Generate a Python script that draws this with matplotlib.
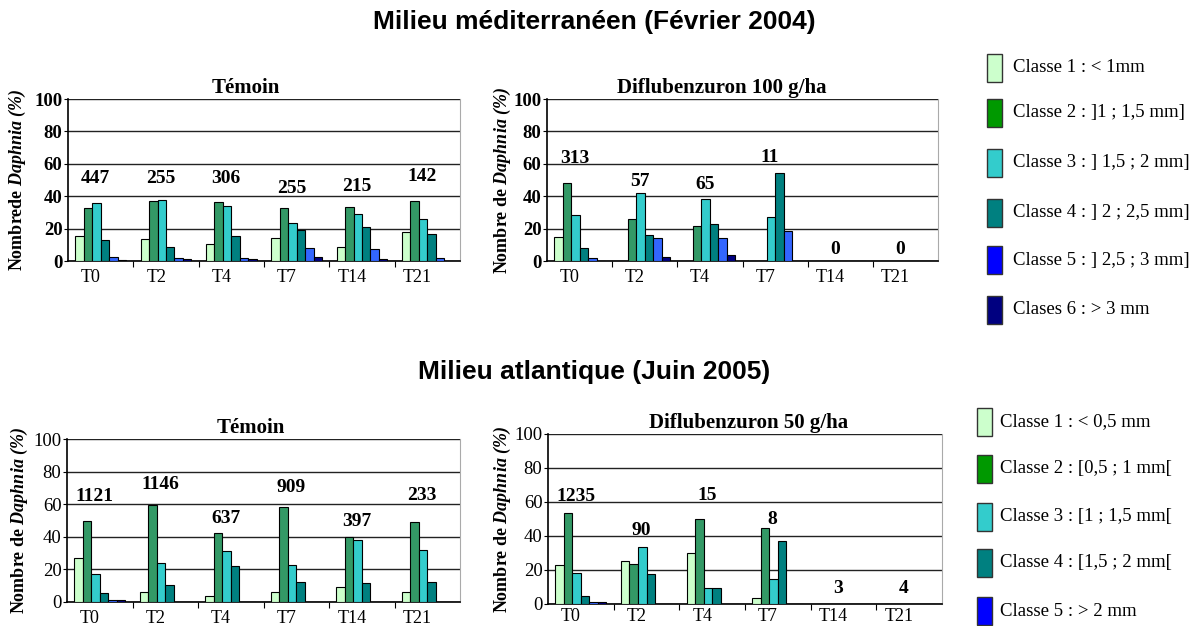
import numpy as np
import matplotlib.pyplot as plt
from matplotlib.patches import Rectangle

plt.rcParams["font.family"] = "Liberation Serif"
plt.rcParams["mathtext.fontset"] = "custom"
plt.rcParams["mathtext.bfit"] = "Liberation Serif:bold:italic"
plt.rcParams["mathtext.it"] = "Liberation Serif:italic"

times = ["T0", "T2", "T4", "T7", "T14", "T21"]

# --- Milieu méditerranéen (Février 2004), % per size class (6 classes) ---
med_temoin = np.array([
    [15.4, 33.0, 35.6, 13.0, 2.3, 0.6],
    [13.6, 36.8, 37.7, 8.4, 2.0, 1.4],
    [10.7, 36.2, 34.2, 15.4, 2.0, 1.4],
    [14.4, 32.7, 23.3, 19.1, 7.8, 2.5],
    [8.4, 33.1, 28.8, 21.0, 7.4, 1.4],
    [17.7, 37.2, 26.1, 16.7, 1.6, 0.0],
])
med_temoin_n = ["447", "255", "306", "255", "215", "142"]
med_temoin_n_y = [51, 51, 51, 44.5, 46, 52]

med_diflu = np.array([
    [14.6, 47.9, 28.2, 7.8, 1.6, 0.0],
    [0.0, 26.1, 42.0, 15.8, 14.2, 2.3],
    [0.0, 21.6, 38.3, 22.8, 14.2, 3.5],
    [0.0, 0.0, 27.2, 54.5, 18.3, 0.0],
    [0.0, 0.0, 0.0, 0.0, 0.0, 0.0],
    [0.0, 0.0, 0.0, 0.0, 0.0, 0.0],
])
med_diflu_n = ["313", "57", "65", "11", "0", "0"]
med_diflu_n_y = [63, 49, 47, 64, 7, 7]

# --- Milieu atlantique (Juin 2005) ---
atl_temoin = np.array([
    [26.9, 49.9, 17.2, 5.7, 1.2, 1.2],
    [6.2, 59.8, 24.2, 10.5, 0.0, 0.0],
    [3.7, 42.1, 31.2, 21.8, 0.0, 0.0],
    [6.4, 58.1, 22.4, 12.5, 0.0, 0.0],
    [9.4, 39.6, 38.0, 11.7, 0.0, 0.0],
    [6.2, 49.1, 32.2, 12.3, 0.0, 0.0],
])
atl_temoin_n = ["1121", "1146", "637", "909", "397", "233"]
atl_temoin_n_y = [64.5, 72, 51.5, 70, 49.5, 65.5]

atl_diflu = np.array([
    [23.2, 53.4, 18.1, 4.9, 1.0, 1.0],
    [25.5, 23.4, 33.4, 17.7, 0.0, 0.0],
    [29.9, 49.9, 9.6, 9.6, 0.0, 0.0],
    [3.7, 44.6, 14.7, 37.1, 0.0, 0.0],
    [0.0, 0.0, 0.0, 0.0, 0.0, 0.0],
    [0.0, 0.0, 0.0, 0.0, 0.0, 0.0],
])
atl_diflu_n = ["1235", "90", "15", "8", "3", "4"]
atl_diflu_n_y = [63.5, 43.5, 64, 50, 9, 9]

med_classes = ["Classe 1 : < 1mm", "Classe 2 : ]1 ; 1,5 mm]", "Classe 3 : ] 1,5 ; 2 mm]",
               "Classe 4 : ] 2 ; 2,5 mm]", "Classe 5 : ] 2,5 ; 3 mm]", "Clases 6 : > 3 mm"]
atl_classes = ["Classe 1 : < 0,5 mm", "Classe 2 : [0,5 ; 1 mm[", "Classe 3 : [1 ; 1,5 mm[",
               "Classe 4 : [1,5 ; 2 mm[", "Classe 5 : > 2 mm"]

bar_colors = ["#CCFFCC", "#339966", "#33CCCC", "#008080", "#3366FF", "#000080"]
legend_colors = ["#CCFFCC", "#009900", "#33CCCC", "#008080", "#0000FF", "#000080"]


def draw_panel(rect, data, counts, count_y, title, title_x, ylabel, label_x,
               ybold=True, xpad=6):
    ax = fig.add_axes(rect)
    x = np.arange(len(times))
    bw = 0.13
    for k in range(data.shape[1]):
        ax.bar(x + (k - 2.5) * bw, data[:, k], width=bw, color=bar_colors[k],
               edgecolor="black", linewidth=0.8, zorder=3)
    for i, (c, cy) in enumerate(zip(counts, count_y)):
        ax.text(i - 0.08, cy, c, ha="center", va="center", fontsize=14,
                fontweight="bold", zorder=4)
    ax.set_xlim(-0.5, len(times) - 0.5)
    ax.set_ylim(0, 100)
    ax.set_yticks(range(0, 101, 20))
    ax.tick_params(axis="y", labelsize=13.5, length=3, pad=1)
    if ybold:
        for lab in ax.get_yticklabels():
            lab.set_fontweight("bold")
    ax.set_xticks(np.arange(0.5, len(times) - 0.5), labels=[])
    ax.tick_params(axis="x", which="major", length=4)
    ax.set_xticks(x - 0.15, labels=times, minor=True)
    ax.tick_params(axis="x", which="minor", length=0, labelsize=13, pad=xpad)
    ax.grid(axis="y", color="#222222", linewidth=1.0, zorder=0)
    ax.spines["top"].set_visible(False)
    ax.spines["right"].set_color("#AAAAAA")
    ax.spines["left"].set_linewidth(1.2)
    ax.spines["bottom"].set_linewidth(1.2)
    ax.set_title(title, fontsize=15, fontweight="bold", pad=4, x=title_x)
    ax.set_ylabel(ylabel, fontsize=13, fontweight="bold")
    ax.yaxis.set_label_coords(label_x, 0.5)
    return ax


def draw_legend(labels, x0, ys, text_x):
    for lab, col, y in zip(labels, legend_colors, ys):
        fig.add_artist(Rectangle((x0 / W, 1 - (y + 14) / H), 15 / W, 28 / H,
                                 transform=fig.transFigure, facecolor=col,
                                 edgecolor="#333333", linewidth=1.0))
        fig.text(text_x / W, 1 - y / H, lab, fontsize=13.5, ha="left", va="center")


W, H = 1193, 626
fig = plt.figure(figsize=(W / 100, H / 100), dpi=100)

fig.text(594 / W, 1 - 22 / H, "Milieu méditerranéen (Février 2004)", ha="center",
         va="center", fontsize=19, fontweight="bold", family="Liberation Sans")
fig.text(594 / W, 1 - 372 / H, "Milieu atlantique (Juin 2005)", ha="center",
         va="center", fontsize=19, fontweight="bold", family="Liberation Sans")

draw_panel([68 / W, 1 - 261 / H, 392 / W, 162 / H], med_temoin, med_temoin_n,
           med_temoin_n_y, "Témoin", 0.454, r"Nombrede $\mathbfit{Daphnia\ (\%)}$", -0.102)
draw_panel([547 / W, 1 - 261 / H, 391 / W, 162 / H], med_diflu, med_diflu_n,
           med_diflu_n_y, "Diflubenzuron 100 g/ha", 0.448,
           r"Nombre de $\mathbfit{Daphnia\ (\%)}$", -0.087)
draw_panel([67 / W, 1 - 602 / H, 393 / W, 163 / H], atl_temoin, atl_temoin_n,
           atl_temoin_n_y, "Témoin", 0.468, r"Nombre de $\mathbfit{Daphnia\ (\%)}$", -0.094,
           ybold=False)
draw_panel([548 / W, 1 - 604 / H, 394 / W, 170 / H], atl_diflu, atl_diflu_n,
           atl_diflu_n_y, "Diflubenzuron 50 g/ha", 0.51,
           r"Nombre de $\mathbfit{Daphnia\ (\%)}$", -0.089, ybold=False, xpad=3)

draw_legend(med_classes, 987, [68, 113, 163, 213, 260, 310], 1013)
draw_legend(atl_classes, 977, [422, 469, 517, 563, 611], 1000)

fig.savefig("out.png", dpi=100)
